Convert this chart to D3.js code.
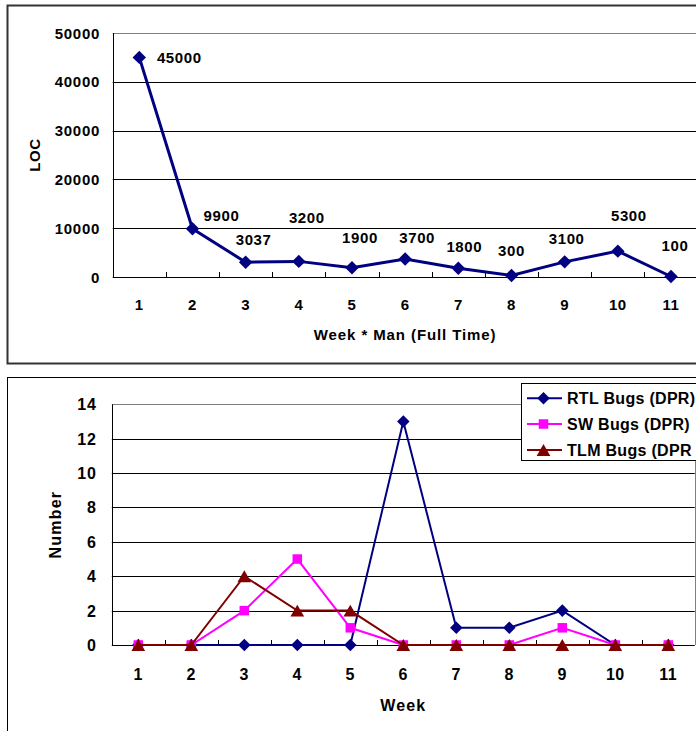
<!DOCTYPE html>
<html>
<head>
<meta charset="utf-8">
<script src="https://cdn.jsdelivr.net/npm/d3@7"></script>
<style>
  body { margin: 0; background: #fff; }
  svg { display: block; }
  text { font-family: "Liberation Sans", Arial, sans-serif; font-weight: bold; fill: #000; }
</style>
</head>
<body>
<div id="chart"></div>
<script>
// data
const weeks = ["1", "2", "3", "4", "5", "6", "7", "8", "9", "10", "11"];
const locValues = [45000, 9900, 3037, 3200, 1900, 3700, 1800, 300, 3100, 5300, 100];
const locTicks = [0, 10000, 20000, 30000, 40000, 50000];

const rtlBugs = [0, 0, 0, 0, 0, 13, 1, 1, 2, 0, 0];
const swBugs  = [0, 0, 2, 5, 1, 0, 0, 0, 1, 0, 0];
const tlmBugs = [0, 0, 4, 2, 2, 0, 0, 0, 0, 0, 0];
const bugTicks = [0, 2, 4, 6, 8, 10, 12, 14];
const bugSeries = ["RTL Bugs (DPR)", "SW Bugs (DPR)", "TLM Bugs (DPR"];

// where the (hand placed) LOC data labels sit relative to their point, px
const locLabelShift = [[40, 0], [29, -13], [8, -23], [8, -44], [8, -30], [12, -21],
                       [6, -22], [0, -25], [2, -23], [11, -36], [4, -31]];

const W = 696, H = 731;
const svg = d3.select("#chart").append("svg")
  .attr("width", W)
  .attr("height", H);

// ---------- top chart : LOC ----------
svg.append("rect")
  .attr("x", 7.5).attr("y", 5.5)
  .attr("width", 720).attr("height", 358)
  .attr("fill", "#fff")
  .attr("stroke", "#333")
  .attr("stroke-width", 2);

const topBox = {left: 112.7, right: 697.6, top: 33, bottom: 277};

const x1 = d3.scaleBand().domain(weeks).range([topBox.left, topBox.right]);
const y1 = d3.scaleLinear().domain([0, 50000]).range([topBox.bottom, topBox.top]);

let g1 = svg.append("g");

// gridlines
g1.selectAll(".grid")
  .data(locTicks.filter(d => d > 0))
  .enter().append("line")
  .attr("x1", topBox.left).attr("x2", topBox.right)
  .attr("y1", d => Math.round(y1(d)) + 0.5)
  .attr("y2", d => Math.round(y1(d)) + 0.5)
  .attr("stroke", d => d === 50000 ? "#808080" : "#000")
  .attr("stroke-width", 1);

// axes lines
g1.append("line")
  .attr("x1", Math.round(topBox.left) + 0.5).attr("x2", Math.round(topBox.left) + 0.5)
  .attr("y1", topBox.top).attr("y2", topBox.bottom)
  .attr("stroke", "#000");
g1.append("line")
  .attr("x1", topBox.left).attr("x2", topBox.right)
  .attr("y1", topBox.bottom + 0.5).attr("y2", topBox.bottom + 0.5)
  .attr("stroke", "#000");

// x tick marks between categories
g1.selectAll(".xtick")
  .data(weeks.slice(1))
  .enter().append("line")
  .attr("x1", d => Math.round(x1(d)) + 0.5)
  .attr("x2", d => Math.round(x1(d)) + 0.5)
  .attr("y1", topBox.bottom - 5).attr("y2", topBox.bottom)
  .attr("stroke", "#000");

// y tick labels
g1.selectAll(".ylab")
  .data(locTicks)
  .enter().append("text")
  .attr("x", 100)
  .attr("y", d => y1(d) + 5.5)
  .attr("text-anchor", "end")
  .style("font-size", "15px")
  .style("letter-spacing", "0.7px")
  .text(d => d);

// x tick labels
g1.selectAll(".xlab")
  .data(weeks)
  .enter().append("text")
  .attr("x", d => x1(d) + x1.bandwidth() / 2)
  .attr("y", 310)
  .attr("text-anchor", "middle")
  .style("font-size", "15px")
  .style("letter-spacing", "0.5px")
  .text(d => d);

// axis titles
g1.append("text")
  .attr("x", (topBox.left + topBox.right) / 2)
  .attr("y", 340)
  .attr("text-anchor", "middle")
  .style("font-size", "15px")
  .style("letter-spacing", "0.9px")
  .text("Week * Man (Full Time)");

g1.append("text")
  .attr("transform", "translate(40," + ((topBox.top + topBox.bottom) / 2) + ") rotate(-90)")
  .attr("text-anchor", "middle")
  .style("font-size", "15px")
  .style("letter-spacing", "0.6px")
  .text("LOC");

// line + markers
const locLine = d3.line()
  .x((d, i) => x1(weeks[i]) + x1.bandwidth() / 2)
  .y(d => y1(d));

g1.append("path")
  .datum(locValues)
  .attr("d", locLine)
  .attr("fill", "none")
  .attr("stroke", "#000080")
  .attr("stroke-width", 3);

const diamondBig = d3.symbol().type(d3.symbolDiamond2).size(115);

g1.selectAll(".locpt")
  .data(locValues)
  .enter().append("path")
  .attr("d", diamondBig)
  .attr("transform", (d, i) => "translate(" + (x1(weeks[i]) + x1.bandwidth() / 2) + "," + y1(d) + ")")
  .attr("fill", "#000080");

g1.selectAll(".loclab")
  .data(locValues)
  .enter().append("text")
  .attr("x", (d, i) => x1(weeks[i]) + x1.bandwidth() / 2 + locLabelShift[i][0])
  .attr("y", (d, i) => y1(d) + locLabelShift[i][1] + 5.5)
  .attr("text-anchor", "middle")
  .style("font-size", "15px")
  .style("letter-spacing", "0.6px")
  .text(d => d);

// ---------- bottom chart : bugs ----------
svg.append("rect")
  .attr("x", 7.5).attr("y", 377.5)
  .attr("width", 720).attr("height", 400)
  .attr("fill", "#fff")
  .attr("stroke", "#000")
  .attr("stroke-width", 1);

const botBox = {left: 111.8, right: 694.8, top: 404.3, bottom: 645};

const x2 = d3.scaleBand().domain(weeks).range([botBox.left, botBox.right]);
const y2 = d3.scaleLinear().domain([0, 14]).range([botBox.bottom, botBox.top]);

let g2 = svg.append("g");

g2.selectAll(".grid")
  .data(bugTicks.filter(d => d > 0))
  .enter().append("line")
  .attr("x1", botBox.left).attr("x2", botBox.right)
  .attr("y1", d => Math.round(y2(d)) + 0.5)
  .attr("y2", d => Math.round(y2(d)) + 0.5)
  .attr("stroke", d => d === 14 ? "#808080" : "#000");

// plot area right border
g2.append("line")
  .attr("x1", Math.round(botBox.right) + 0.5).attr("x2", Math.round(botBox.right) + 0.5)
  .attr("y1", botBox.top).attr("y2", botBox.bottom)
  .attr("stroke", "#808080");

g2.append("line")
  .attr("x1", Math.round(botBox.left) + 0.5).attr("x2", Math.round(botBox.left) + 0.5)
  .attr("y1", botBox.top).attr("y2", botBox.bottom)
  .attr("stroke", "#000");
g2.append("line")
  .attr("x1", botBox.left).attr("x2", botBox.right)
  .attr("y1", Math.round(botBox.bottom) + 0.5).attr("y2", Math.round(botBox.bottom) + 0.5)
  .attr("stroke", "#000");

g2.selectAll(".xtick")
  .data(weeks.slice(1))
  .enter().append("line")
  .attr("x1", d => Math.round(x2(d)) + 0.5)
  .attr("x2", d => Math.round(x2(d)) + 0.5)
  .attr("y1", botBox.bottom - 5).attr("y2", botBox.bottom)
  .attr("stroke", "#000");

g2.selectAll(".ylab")
  .data(bugTicks)
  .enter().append("text")
  .attr("x", 97)
  .attr("y", d => y2(d) + 6)
  .attr("text-anchor", "end")
  .style("font-size", "16px")
  .style("letter-spacing", "1px")
  .text(d => d);

g2.selectAll(".xlab")
  .data(weeks)
  .enter().append("text")
  .attr("x", d => x2(d) + x2.bandwidth() / 2)
  .attr("y", 680)
  .attr("text-anchor", "middle")
  .style("font-size", "16px")
  .style("letter-spacing", "0.5px")
  .text(d => d);

g2.append("text")
  .attr("x", (botBox.left + botBox.right) / 2)
  .attr("y", 711)
  .attr("text-anchor", "middle")
  .style("font-size", "16px")
  .style("letter-spacing", "1.2px")
  .text("Week");

g2.append("text")
  .attr("transform", "translate(61," + ((botBox.top + botBox.bottom) / 2) + ") rotate(-90)")
  .attr("text-anchor", "middle")
  .style("font-size", "16px")
  .style("letter-spacing", "1.2px")
  .text("Number");

const colors = ["#000080", "#ff00ff", "#800000"];
const symbols = [
  d3.symbol().type(d3.symbolDiamond2).size(100),
  d3.symbol().type(d3.symbolSquare2).size(115),
  d3.symbol().type(d3.symbolTriangle2).size(135)
];
// triangle sits a little low in the original
const symbolDrop = [0, 0, 2];
const allBugs = [rtlBugs, swBugs, tlmBugs];

const bugLine = d3.line()
  .x((d, i) => x2(weeks[i]) + x2.bandwidth() / 2)
  .y(d => y2(d));

allBugs.forEach(function(series, s) {
  g2.append("path")
    .datum(series)
    .attr("d", bugLine)
    .attr("fill", "none")
    .attr("stroke", colors[s])
    .attr("stroke-width", 2);
  g2.selectAll(".pt" + s)
    .data(series)
    .enter().append("path")
    .attr("d", symbols[s])
    .attr("transform", (d, i) => "translate(" + (x2(weeks[i]) + x2.bandwidth() / 2) + "," + (y2(d) + symbolDrop[s]) + ")")
    .attr("fill", colors[s]);
});

// legend
let legend = svg.append("g");
legend.append("rect")
  .attr("x", 521.5).attr("y", 383.5)
  .attr("width", 190).attr("height", 77)
  .attr("fill", "#fff")
  .attr("stroke", "#000");

const legendRows = [398.3, 424, 450];
bugSeries.forEach(function(name, s) {
  let row = legend.append("g");
  row.append("line")
    .attr("x1", 527).attr("x2", 562)
    .attr("y1", legendRows[s]).attr("y2", legendRows[s])
    .attr("stroke", colors[s])
    .attr("stroke-width", 2);
  row.append("path")
    .attr("d", symbols[s])
    .attr("transform", "translate(543.5," + (legendRows[s] + symbolDrop[s]) + ")")
    .attr("fill", colors[s]);
  row.append("text")
    .attr("x", 567)
    .attr("y", legendRows[s] + 6)
    .style("font-size", "16px")
    .style("letter-spacing", "0.3px")
    .text(name);
});
</script>
</body>
</html>
